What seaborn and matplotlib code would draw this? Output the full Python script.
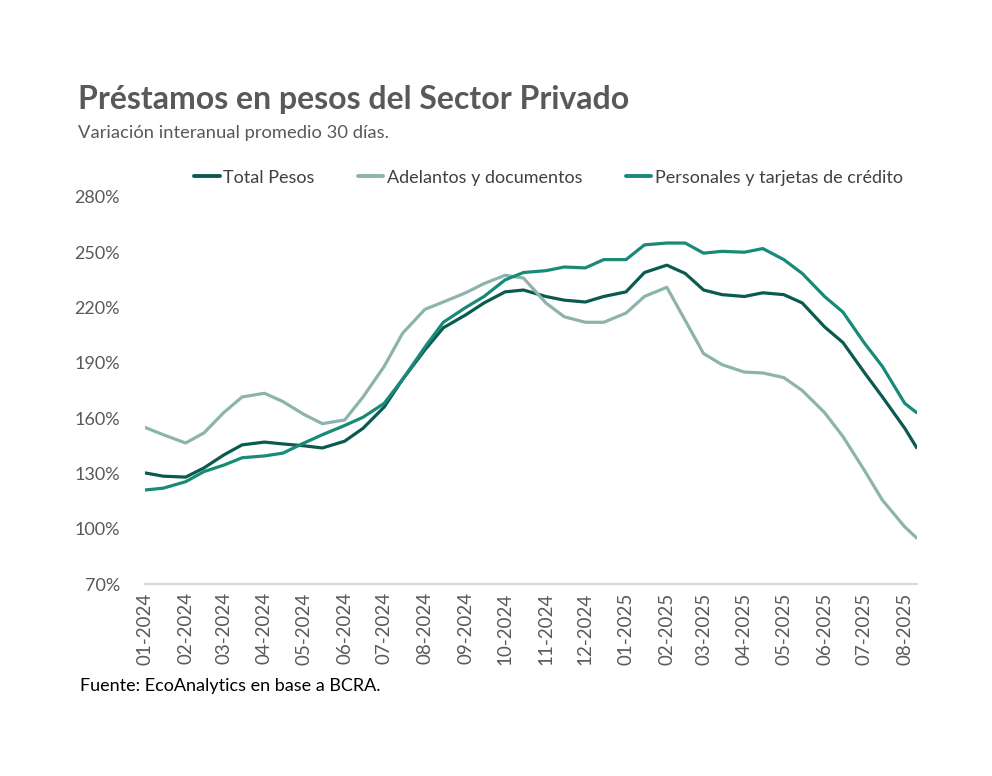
import seaborn as sns
import pandas as pd
import matplotlib.pyplot as plt
from matplotlib.ticker import FuncFormatter
import matplotlib.dates as mdates

# fechas: puntos quincenales + ultimo dato de agosto 2025
fechas = list(pd.date_range("2024-01-01", "2025-08-01", freq="SMS")) + [pd.Timestamp("2025-08-10")]

total_pesos = [130.3, 128.5, 128.0, 133.0, 140.0, 145.5, 147.0, 146.0, 145.0, 143.8,
               147.5, 154.5, 166.0, 181.0, 197.0, 209.0, 216.0, 222.5, 228.5, 229.5,
               226.0, 224.0, 223.0, 226.0, 228.5, 239.0, 243.0, 238.5, 229.5, 227.0,
               226.0, 228.0, 227.0, 222.5, 209.5, 201.0, 185.0, 171.5, 154.5, 144.0]

adelantos = [155.0, 151.0, 146.5, 152.0, 163.0, 171.5, 173.5, 169.0, 162.0, 157.0,
             159.0, 171.5, 188.0, 206.0, 219.0, 223.0, 228.0, 233.0, 237.5, 236.0,
             222.5, 215.0, 212.0, 212.0, 217.0, 226.0, 231.0, 213.0, 195.0, 189.0,
             185.0, 184.5, 182.0, 175.0, 163.0, 150.0, 132.0, 115.5, 101.0, 95.0]

personales = [121.0, 122.0, 125.5, 131.0, 134.5, 138.5, 139.5, 141.0, 146.5, 151.0,
              156.0, 160.5, 168.0, 181.0, 198.5, 212.0, 220.0, 226.0, 235.0, 239.0,
              240.0, 242.0, 241.5, 246.0, 246.0, 254.0, 255.0, 255.0, 249.5, 250.5,
              250.0, 252.0, 246.0, 238.5, 226.0, 217.5, 201.0, 188.0, 168.0, 163.0]

series = ["Total Pesos", "Adelantos y documentos", "Personales y tarjetas de crédito"]
colores = ["#0a5a50", "#8db4ac", "#188b78"]

df = pd.DataFrame({"fecha": fechas,
                   series[0]: total_pesos,
                   series[1]: adelantos,
                   series[2]: personales})
df = df.melt(id_vars="fecha", var_name="serie", value_name="valor")

sns.set_style("white")
plt.rcParams["font.family"] = ["Lato", "DejaVu Sans"]

fig = plt.figure(figsize=(9.92, 7.76), dpi=100)
ax = fig.add_axes([0.146, 0.2474, 0.778, 0.4988])

sns.lineplot(data=df, x="fecha", y="valor", hue="serie", hue_order=series,
             palette=colores, linewidth=2.3, ax=ax, legend=False)

ax.set_ylim(70, 280)
ax.set_yticks(range(70, 281, 30))
ax.yaxis.set_major_formatter(FuncFormatter(lambda v, p: f"{v:.0f}%"))
ax.set_xlim(fechas[0], fechas[-1])
ax.set_xticks(pd.date_range("2024-01-01", "2025-08-01", freq="MS"))
ax.xaxis.set_major_formatter(mdates.DateFormatter("%m-%Y"))
ax.tick_params(axis="x", rotation=90, labelsize=13.5, colors="#595959", length=0, pad=6)
ax.tick_params(axis="y", labelsize=13, colors="#595959", length=0, pad=18)
ax.set_xlabel("")
ax.set_ylabel("")

for s in ["top", "right", "left"]:
    ax.spines[s].set_visible(False)
ax.spines["bottom"].set_color("#d9d9d9")
ax.spines["bottom"].set_linewidth(1.5)
ax.grid(False)

handles = [plt.Line2D([], [], color=c, linewidth=2.8) for c in colores]
fig.legend(handles, series, loc="center", bbox_to_anchor=(0.553, 0.771), ncol=3,
           frameon=False, fontsize=13, handlelength=1.4, handletextpad=0.2,
           columnspacing=2.4, labelcolor="#404040")

fig.text(0.079, 0.872, "Préstamos en pesos del Sector Privado", fontsize=23,
         fontweight="bold", color="#595959", va="center")
fig.text(0.079, 0.829, "Variación interanual promedio 30 días.", fontsize=13.2,
         color="#595959", va="center")
fig.text(0.081, 0.116, "Fuente: EcoAnalytics en base a BCRA.", fontsize=13,
         color="#000000", va="center")

fig.savefig("out.png", dpi=100)
